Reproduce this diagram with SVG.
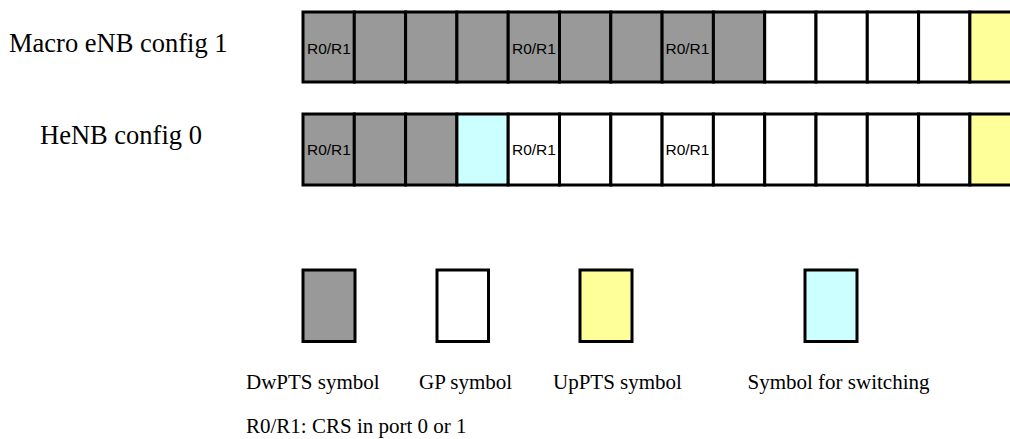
<svg xmlns="http://www.w3.org/2000/svg" width="1010" height="439" viewBox="0 0 1010 439">
<style>
.c{stroke:#000;stroke-width:3}
.g{fill:#999999}
.w{fill:#ffffff}
.y{fill:#ffff99}
.b{fill:#ccffff}
.lbl{font-family:"Liberation Serif",serif;font-size:26.5px;fill:#000}
.leg{font-family:"Liberation Serif",serif;font-size:21px;fill:#000}
.r{font-family:"Liberation Sans",Arial,sans-serif;font-size:15.5px;fill:#000}
</style>
<rect width="1010" height="439" fill="#fff"/>
<g id="row1">
<text class="lbl" x="9" y="52">Macro eNB config 1</text>
<rect class="c g" x="303" y="12" width="51.3" height="70"/>
<rect class="c g" x="354.3" y="12" width="51.3" height="70"/>
<rect class="c g" x="405.6" y="12" width="51.3" height="70"/>
<rect class="c g" x="456.9" y="12" width="51.3" height="70"/>
<rect class="c g" x="508.2" y="12" width="51.3" height="70"/>
<rect class="c g" x="559.5" y="12" width="51.3" height="70"/>
<rect class="c g" x="610.8" y="12" width="51.3" height="70"/>
<rect class="c g" x="662.1" y="12" width="51.3" height="70"/>
<rect class="c g" x="713.4" y="12" width="51.3" height="70"/>
<rect class="c w" x="764.7" y="12" width="51.3" height="70"/>
<rect class="c w" x="816" y="12" width="51.3" height="70"/>
<rect class="c w" x="867.3" y="12" width="51.3" height="70"/>
<rect class="c w" x="918.6" y="12" width="51.3" height="70"/>
<rect class="c y" x="969.9" y="12" width="51.3" height="70"/>
<text class="r" x="307" y="54">R0/R1</text>
<text class="r" x="512" y="54">R0/R1</text>
<text class="r" x="665.5" y="54">R0/R1</text>
</g>
<g id="row2">
<text class="lbl" x="40" y="144">HeNB config 0</text>
<rect class="c g" x="303" y="114" width="51.3" height="71"/>
<rect class="c g" x="354.3" y="114" width="51.3" height="71"/>
<rect class="c g" x="405.6" y="114" width="51.3" height="71"/>
<rect class="c b" x="456.9" y="114" width="51.3" height="71"/>
<rect class="c w" x="508.2" y="114" width="51.3" height="71"/>
<rect class="c w" x="559.5" y="114" width="51.3" height="71"/>
<rect class="c w" x="610.8" y="114" width="51.3" height="71"/>
<rect class="c w" x="662.1" y="114" width="51.3" height="71"/>
<rect class="c w" x="713.4" y="114" width="51.3" height="71"/>
<rect class="c w" x="764.7" y="114" width="51.3" height="71"/>
<rect class="c w" x="816" y="114" width="51.3" height="71"/>
<rect class="c w" x="867.3" y="114" width="51.3" height="71"/>
<rect class="c w" x="918.6" y="114" width="51.3" height="71"/>
<rect class="c y" x="969.9" y="114" width="51.3" height="71"/>
<text class="r" x="307" y="155">R0/R1</text>
<text class="r" x="512" y="155">R0/R1</text>
<text class="r" x="665.5" y="155">R0/R1</text>
</g>
<g id="legend-dwpts">
<rect class="c g" x="303" y="270" width="52" height="71.5"/>
<text class="leg" x="246" y="389">DwPTS symbol</text>
</g>
<g id="legend-gp">
<rect class="c w" x="437" y="270" width="51.5" height="71.5"/>
<text class="leg" x="419" y="389">GP symbol</text>
</g>
<g id="legend-uppts">
<rect class="c y" x="580" y="270" width="52" height="71.5"/>
<text class="leg" x="553" y="389">UpPTS symbol</text>
</g>
<g id="legend-switch">
<rect class="c b" x="805" y="270" width="52" height="71.5"/>
<text class="leg" x="747.5" y="389">Symbol for switching</text>
</g>
<g id="note">
<text class="leg" x="246" y="433">R0/R1: CRS in port 0 or 1</text>
</g>
<g id="connectors"/>
</svg>
